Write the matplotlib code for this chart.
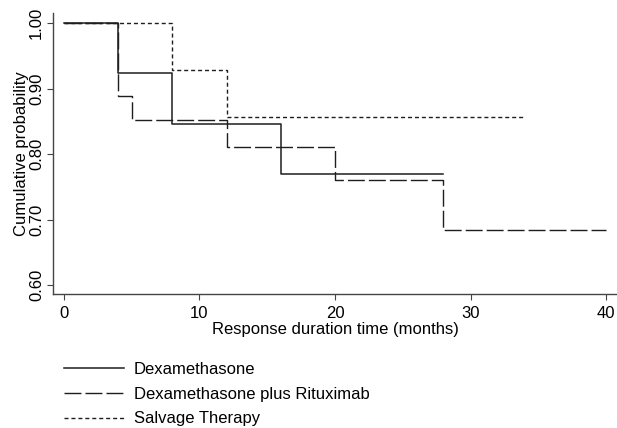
import matplotlib
matplotlib.use("Agg")
import matplotlib.pyplot as plt

plt.rcParams['font.family'] = ['Liberation Sans', 'DejaVu Sans']
plt.rcParams['lines.scale_dashes'] = False

# Kaplan-Meier step data (time in months, cumulative probability)
dex_t = [0, 4, 8, 16, 28]
dex_s = [1.0, 0.923, 0.846, 0.769, 0.769]

rit_t = [0, 4, 5, 12, 20, 28, 40]
rit_s = [1.0, 0.889, 0.852, 0.811, 0.760, 0.684, 0.684]

sal_t = [0, 8, 12, 34]
sal_s = [1.0, 0.929, 0.857, 0.857]

labels = ["Dexamethasone", "Dexamethasone plus Rituximab", "Salvage Therapy"]
yticks = [0.60, 0.70, 0.80, 0.90, 1.00]
xticks = [0, 10, 20, 30, 40]

line_col = '#1e1e1e'
axis_col = '#444444'
fs = 12

fig = plt.figure(figsize=(6.17, 4.28), dpi=100)
ax = fig.add_axes([53/617, 1 - 294/428, 1 - 53/617, (294 - 13)/428])

# draw salvage first so the solid line sits on top
l3, = ax.step(sal_t, sal_s, where='post', color=line_col, lw=1.0, dashes=(2.9, 2.1))
l2, = ax.step(rit_t, rit_s, where='post', color=line_col, lw=1.0, dashes=(12.2, 2.9))
l1, = ax.step(dex_t, dex_s, where='post', color=line_col, lw=1.1)

ax.set_xlim(-0.81, 40.81)
ax.set_ylim(0.5863, 1.0153)
ax.set_xticks(xticks)
ax.set_xticklabels([str(x) for x in xticks], fontsize=fs)
ax.set_yticks(yticks)
ax.set_yticklabels([f"{y:.2f}" for y in yticks], fontsize=fs, rotation=90, va='center')

for side in ['top', 'right']:
    ax.spines[side].set_visible(False)
for side in ['left', 'bottom']:
    ax.spines[side].set_color(axis_col)
    ax.spines[side].set_linewidth(1.0)
ax.tick_params(axis='both', direction='out', length=4.5, width=0.8, color=axis_col)
ax.tick_params(axis='x', pad=4.5)
ax.tick_params(axis='y', pad=2)

ax.set_xlabel("Response duration time (months)", fontsize=fs, labelpad=0.5)
ax.set_ylabel("Cumulative probability", fontsize=fs, labelpad=0)

ax.legend([l1, l2, l3], labels, loc='upper left', bbox_to_anchor=(64/617, 1 - 362/428),
          bbox_transform=fig.transFigure, frameon=False, fontsize=fs,
          handlelength=3.6, handletextpad=0.6, labelspacing=0.58,
          borderpad=0, borderaxespad=0)

fig.savefig("out.png", dpi=100)
